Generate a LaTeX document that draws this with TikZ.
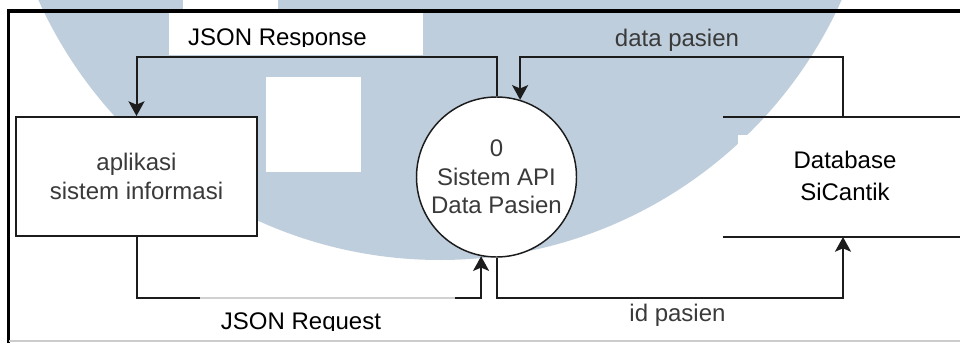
\documentclass[tikz,border=0pt]{standalone}
\usepackage{fontspec}
\setmainfont{Liberation Sans}
\usetikzlibrary{arrows.meta}
\definecolor{wmblue}{RGB}{191,206,220}
\definecolor{ink}{RGB}{28,28,28}
\definecolor{softtext}{RGB}{58,58,58}

\begin{document}
\begin{tikzpicture}[x=0.75pt,y=-0.75pt,
  txt/.style={font=\fontsize{18pt}{21.5pt}\selectfont},
  flow/.style={draw=ink,line width=1.5pt,
    -{Stealth[length=11pt,width=12pt,inset=2.5pt]}},
  wire/.style={draw=ink,line width=1.5pt},
  procbox/.style={draw=ink,line width=1.5pt,fill=white,rectangle,
    minimum width=180.75pt,minimum height=89.25pt,inner sep=0pt,
    align=center,txt,text=softtext},
  proccircle/.style={draw=ink,line width=1.1pt,fill=white,circle,
    minimum size=120pt,inner sep=0pt,align=center,txt,text=softtext},
  flowlabel/.style={txt,inner sep=0pt,anchor=base},
  frame/.style={draw=black,line width=2.4pt}]

\path[use as bounding box,clip] (0,0) rectangle (960,343);

% background mark
\fill[wmblue] (440,-180) circle[radius=440];
\fill[white] (183,0) rectangle (278,10);
\fill[white] (169,13) rectangle (423,55);
\fill[white] (266,77) rectangle (361,172);
\fill[white] (738,135) rectangle (960,236);

% outer frame
\draw[frame] (7,11) -- (960,11);
\draw[frame] (8.5,10) -- (8.5,343);
\draw[black!20,line width=1pt] (9,341) -- (960,341);

% entities and process
\node[procbox] (app) at (136.5,176.5) {aplikasi\\sistem informasi};
\node[proccircle] (api) at (496.5,177) {0\\Sistem API\\Data Pasien};

% data store
\coordinate (dbTL) at (723,117);
\coordinate (dbTR) at (960,117);
\coordinate (dbBL) at (723,237);
\coordinate (dbBR) at (960,237);
\coordinate (dbT) at (843,117);
\coordinate (dbB) at (843,237);
\draw[wire] (dbTL) -- (dbTR);
\draw[wire] (dbBL) -- (dbBR);
\node[align=center,font=\fontsize{18pt}{24pt}\selectfont,text=black,inner sep=0pt]
  (db) at (845,176) {Database\\SiCantik};

% routing levels
\coordinate (ytop) at (0,57);
\coordinate (ybot) at (0,298);

% flows
\draw[flow] (api.north) -- (api.north |- ytop) -| (app.north);
\draw[flow] (dbT) -- (dbT |- ytop) -| (api.73.7);
\draw[flow] (app.south) -- (app.south |- ybot) -| (api.259.6);
\draw[flow] (api.south) -- (api.south |- ybot) -| (dbB);

% flow labels
\begin{scope}
  \clip (169,13) rectangle (423,46);
  \node[flowlabel,text=black] (rsp) at (277.5,45) {JSON Response};
\end{scope}
\node[flowlabel,text=softtext] (dp) at (677,46) {data pasien};
\node[flowlabel,text=softtext] (ip) at (677.5,321) {id pasien};

\fill[white,opacity=0.8] (200,296) rectangle (455,340);
\begin{scope}
  \clip (200,296) rectangle (455,330);
  \node[flowlabel,text=black] (req) at (301,329) {JSON Request};
\end{scope}
\end{tikzpicture}
\end{document}
